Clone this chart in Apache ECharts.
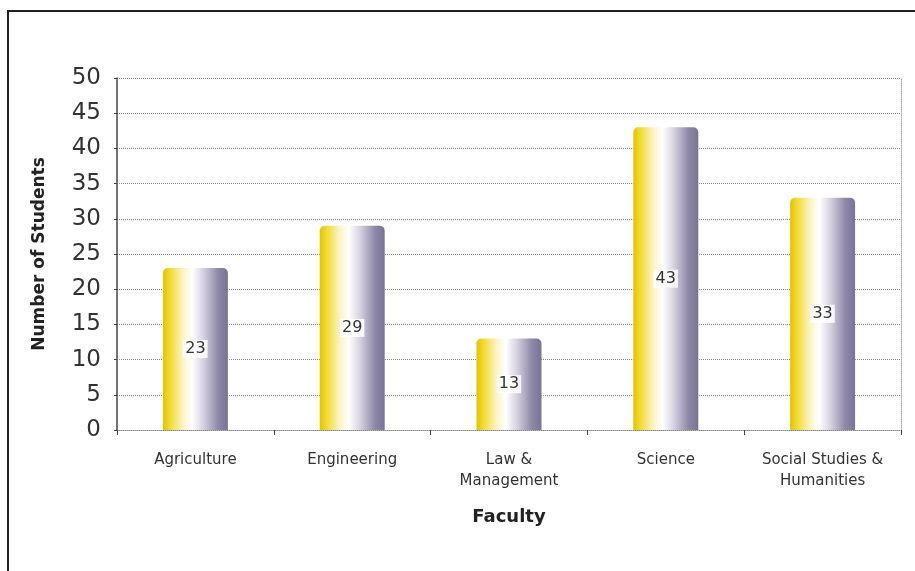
<!DOCTYPE html>
<html><head><meta charset="utf-8">
<script src="https://cdn.jsdelivr.net/npm/echarts@6/dist/echarts.min.js"></script>
<style>html,body{margin:0;padding:0;background:#fff}#c{width:915px;height:571px}</style>
</head><body><div id="c"></div>
<script>
const categories = ['Agriculture', 'Engineering', 'Law &\nManagement', 'Science', 'Social Studies &\nHumanities'];
const students = [23, 29, 13, 43, 33];
const yTicks = { min: 0, max: 50, interval: 5 };

const chart = echarts.init(document.getElementById('c'));
const barGrad = new echarts.graphic.LinearGradient(0, 0, 1, 0, [
  { offset: 0, color: '#e2c400' },
  { offset: 0.12, color: '#f2dc3a' },
  { offset: 0.3, color: '#fbf3c0' },
  { offset: 0.45, color: '#ffffff' },
  { offset: 0.62, color: '#d6d2e0' },
  { offset: 0.85, color: '#8e88a8' },
  { offset: 1, color: '#7a7494' }
]);
chart.setOption({
  animation: false,
  backgroundColor: '#fff',
  textStyle: { fontFamily: 'DejaVu Sans, sans-serif' },
  graphic: [
    { type: 'polyline', shape: { points: [[8, 571], [8, 11], [915, 11]] }, style: { stroke: '#222', lineWidth: 2, fill: null } }
  ],
  grid: { left: 117, right: 14, top: 78, bottom: 141 },
  xAxis: {
    type: 'category',
    data: categories,
    name: 'Faculty',
    nameLocation: 'middle',
    nameGap: 78,
    nameTextStyle: { fontSize: 18, fontWeight: 'bold', color: '#222', fontFamily: 'DejaVu Sans' },
    axisLine: { lineStyle: { color: '#888', type: 'dotted', width: 1 } },
    axisTick: { show: true, length: 5, lineStyle: { color: '#444' } },
    axisLabel: { fontSize: 15, color: '#333', margin: 20, lineHeight: 21, interval: 0 }
  },
  yAxis: [{
    type: 'value',
    min: yTicks.min, max: yTicks.max, interval: yTicks.interval,
    name: 'Number of Students',
    nameLocation: 'middle',
    nameGap: 69,
    nameTextStyle: { fontSize: 17, fontWeight: 'bold', color: '#222', fontFamily: 'DejaVu Sans' },
    axisLine: { show: true, lineStyle: { color: '#444', width: 1.5 } },
    axisTick: { show: true, length: 3, inside: false, lineStyle: { color: '#444' } },
    axisLabel: { fontSize: 23, color: '#333', margin: 16 },
    splitLine: { lineStyle: { color: '#888', type: 'dotted', width: 1 } }
  }, {
    type: 'value', position: 'right',
    min: yTicks.min, max: yTicks.max, interval: yTicks.interval,
    axisLine: { show: true, lineStyle: { color: '#aaa', type: 'dotted' } },
    axisTick: { show: false }, axisLabel: { show: false }, splitLine: { show: false }
  }],
  series: [{
    type: 'bar',
    data: students,
    barWidth: 65,
    itemStyle: { color: barGrad, borderRadius: [5, 5, 0, 0] },
    label: {
      show: true, position: 'inside', fontSize: 16, color: '#333',
      backgroundColor: 'rgba(255,255,255,0.85)', padding: [1, 2]
    }
  }]
});
</script></body></html>
